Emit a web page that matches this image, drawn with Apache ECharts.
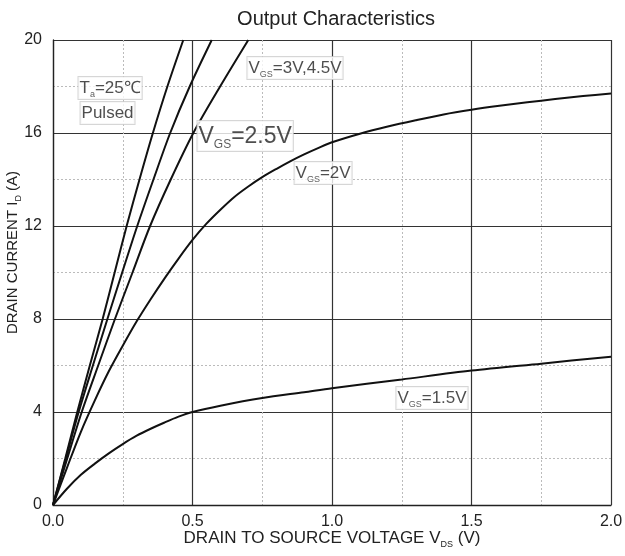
<!DOCTYPE html>
<html>
<head>
<meta charset="utf-8">
<script src="https://cdn.jsdelivr.net/npm/echarts@6/dist/echarts.min.js"></script>
<style>html,body{margin:0;padding:0;background:#fff;}#c{width:625px;height:556px;}</style>
</head>
<body>
<div id="c"></div>
<script>
// Data (V_DS in V, I_D in A)
const vgs45 = [[0,0],[0.044,2],[0.087,4],[0.132,6],[0.178,8],[0.221,10],[0.264,12],[0.31,14],[0.358,16],[0.41,18],[0.467,20]];
const vgs3 = [[0,0],[0.046,2],[0.092,4],[0.143,6],[0.195,8],[0.248,10],[0.302,12],[0.36,14],[0.42,16],[0.49,18],[0.569,20]];
const vgs25 = [[0,0],[0.051,2],[0.103,4],[0.162,6],[0.222,8],[0.285,10],[0.348,12],[0.422,14],[0.503,16],[0.599,18],[0.70,20]];
const vgs2 = [[0,0],[0.05,1.6],[0.1,3.15],[0.15,4.5],[0.2,5.75],[0.25,6.85],[0.3,7.9],[0.35,8.85],[0.4,9.75],[0.45,10.6],[0.5,11.4],[0.55,12.1],[0.6,12.7],[0.65,13.25],[0.7,13.7],[0.75,14.1],[0.8,14.45],[0.85,14.78],[0.9,15.08],[0.95,15.35],[1.0,15.6],[1.1,15.97],[1.2,16.28],[1.3,16.55],[1.4,16.8],[1.5,17.0],[1.6,17.17],[1.7,17.32],[1.8,17.46],[1.9,17.59],[2.0,17.7]];
const vgs15 = [[0,0],[0.05,0.7],[0.1,1.3],[0.15,1.78],[0.2,2.22],[0.25,2.62],[0.3,2.98],[0.35,3.28],[0.4,3.55],[0.45,3.8],[0.5,4.0],[0.6,4.27],[0.75,4.6],[0.9,4.85],[1.0,5.02],[1.25,5.4],[1.5,5.78],[1.75,6.08],[2.0,6.38]];
const seriesData = [vgs45, vgs3, vgs25, vgs2, vgs15];

const xTicks = ['0.0','0.5','1.0','1.5','2.0'];
const yTicks = ['0','4','8','12','16','20'];

// annotations: [x, y, rich text]
const notes = [
  [0.0896, 17.94, '{m|T}{s|a}{m|=25℃}'],
  [0.097, 16.86, '{m|Pulsed}'],
  [0.695, 18.8, '{m|V}{s|GS}{m|=3V,4.5V}'],
  [0.516, 15.87, '{b|V}{bs|GS}{b|=2.5V}'],
  [0.864, 14.28, '{m|V}{s|GS}{m|=2V}'],
  [1.229, 4.6, '{m|V}{s|GS}{m|=1.5V}']
];

const chart = echarts.init(document.getElementById('c'));
const FONT = 'Liberation Sans, Arial, sans-serif';
const lineSeries = seriesData.map(d => ({
  type: 'line', data: d, showSymbol: false, smooth: 0.3,
  lineStyle: {color: '#111', width: 2}, clip: true, z: 3
}));

chart.setOption({
  animation: false,
  title: {text: 'Output Characteristics', left: 331, top: 4, textAlign: 'center',
    textStyle: {fontFamily: FONT, fontSize: 20, fontWeight: 'normal', color: '#222'}},
  grid: {left: 53, right: 14, top: 40, bottom: 51, outerBoundsMode: 'none', containLabel: false},
  xAxis: {
    type: 'value', min: 0, max: 2, interval: 0.5,
    axisLine: {show: true, lineStyle: {color: '#222', width: 1.3}},
    axisTick: {show: false},
    axisLabel: {color: '#222', fontSize: 16, fontFamily: FONT, margin: 9,
      formatter: (v) => xTicks[Math.round(v / 0.5)]},
    splitLine: {show: true, lineStyle: {color: '#333', width: 1.2}},
    minorTick: {show: false, splitNumber: 2},
    minorSplitLine: {show: true, lineStyle: {color: '#bbb', width: 1, type: [2, 2]}},
    name: '{m|DRAIN TO SOURCE VOLTAGE V}{s|DS}{m| (V)}',
    nameLocation: 'middle', nameGap: 22, nameMoveOverlap: false,
    nameTextStyle: {rich: {
      m: {fontSize: 17, fontFamily: FONT, color: '#222', lineHeight: 22, verticalAlign: 'middle'},
      s: {fontSize: 9, fontFamily: FONT, color: '#222', lineHeight: 9, verticalAlign: 'bottom'}
    }}
  },
  yAxis: {
    type: 'value', min: 0, max: 20, interval: 4,
    axisLine: {show: true, lineStyle: {color: '#222', width: 1.3}},
    axisTick: {show: false},
    axisLabel: {color: '#222', fontSize: 16, fontFamily: FONT, margin: 11,
      formatter: (v) => yTicks[Math.round(v / 4)]},
    splitLine: {show: true, lineStyle: {color: '#333', width: 1.2}},
    minorTick: {show: false, splitNumber: 2},
    minorSplitLine: {show: true, lineStyle: {color: '#bbb', width: 1, type: [2, 2]}},
    name: '{m|DRAIN CURRENT I}{s|D}{m| (A)}',
    nameLocation: 'middle', nameGap: 30, nameRotate: 90, nameMoveOverlap: false,
    nameTextStyle: {padding: [0, 0, 0, 40], rich: {
      m: {fontSize: 15, fontFamily: FONT, color: '#222', lineHeight: 20, verticalAlign: 'middle'},
      s: {fontSize: 9, fontFamily: FONT, color: '#222', lineHeight: 9, verticalAlign: 'bottom'}
    }}
  },
  series: lineSeries.concat([{
    type: 'scatter', symbolSize: 1, itemStyle: {color: 'rgba(0,0,0,0)'}, z: 5,
    data: notes.map(n => ({value: [n[0], n[1]], label: {formatter: n[2]}})),
    label: {show: true, position: 'right', distance: 0,
      backgroundColor: '#fff', borderColor: '#ccc', borderWidth: 1, padding: [1, 1, 0, 1],
      rich: {
        m: {fontSize: 17, fontFamily: FONT, color: '#222', lineHeight: 21, verticalAlign: 'middle'},
        s: {fontSize: 9, fontFamily: FONT, color: '#333', lineHeight: 9, verticalAlign: 'bottom'},
        b: {fontSize: 23, fontFamily: FONT, color: '#222', lineHeight: 29, verticalAlign: 'middle'},
        bs: {fontSize: 12, fontFamily: FONT, color: '#333', lineHeight: 12, verticalAlign: 'bottom'}
      }}
  }])
});
</script>
</body>
</html>
